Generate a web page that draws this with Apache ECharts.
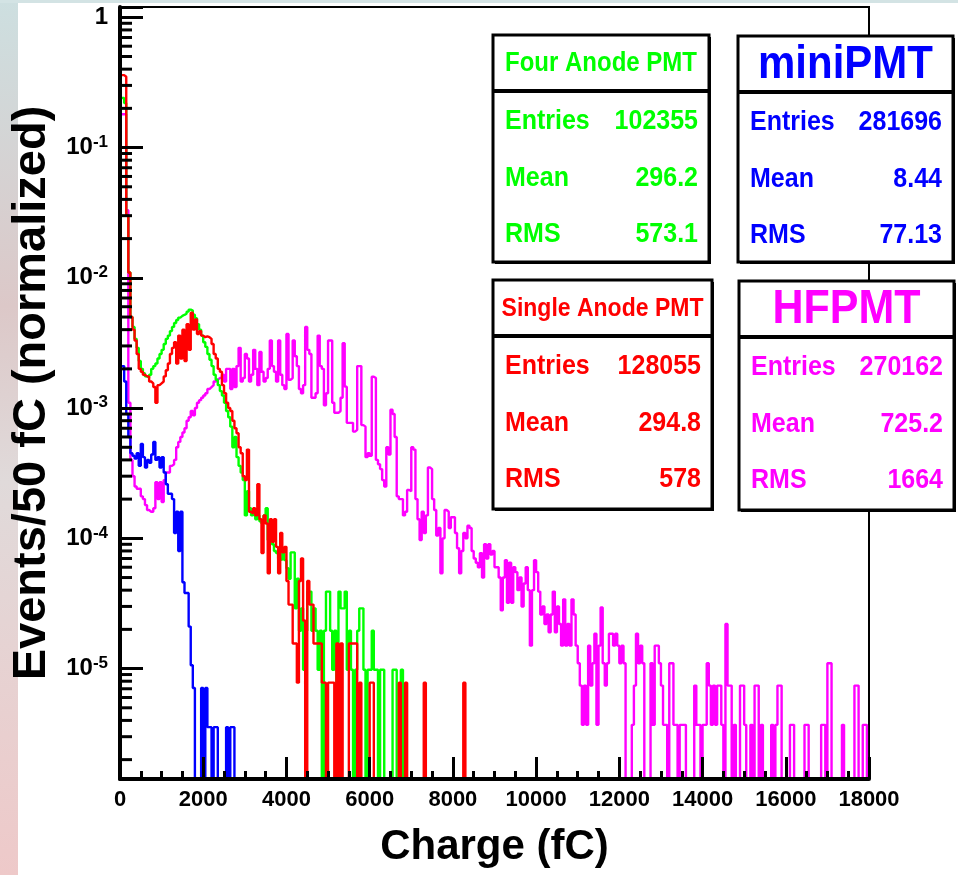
<!DOCTYPE html>
<html>
<head>
<meta charset="utf-8">
<title>PMT charge spectra</title>
<script src="https://cdn.jsdelivr.net/npm/echarts@6.0.0/dist/echarts.min.js"></script>
<style>
  html, body { margin: 0; padding: 0; background: #fff; }
  #chart { width: 958px; height: 875px; }
</style>
</head>
<body>
<div id="chart"></div>
<script>
// bin width of every histogram (fC)
const BIN = 50;
// empty bins go below the frame on the log axis
const EMPTY = 1e-9;

// normalized contents per 50 fC bin, starting at 0 fC
const fourAnode = [
  0.24, 0.24, 0.22, 0.03, 0.011, 5.0e-3, 4.2e-3, 3.4e-3, 2.9e-3, 2.3e-3,
  2.0e-3, 1.85e-3, 1.75e-3, 1.72e-3, 1.8e-3, 2.0e-3, 2.1e-3, 2.2e-3, 2.4e-3, 2.6e-3,
  2.8e-3, 3.1e-3, 3.4e-3, 3.6e-3, 3.9e-3, 4.2e-3, 4.5e-3, 4.75e-3, 4.95e-3, 5.1e-3,
  5.2e-3, 5.3e-3, 5.5e-3, 5.7e-3, 5.6e-3, 5.2e-3, 4.9e-3, 4.4e-3, 4.0e-3, 3.6e-3,
  3.2e-3, 2.95e-3, 2.6e-3, 2.35e-3, 2.1e-3, 1.8e-3, 1.65e-3, 1.5e-3, 1.35e-3, 1.25e-3,
  1.1e-3, 9.5e-4, 8.5e-4, 7.2e-4, 5.0e-4, 6.0e-4, 4.2e-4, 3.6e-4, 3.2e-4, 2.8e-4,
  1.5e-4, 2.3e-4, 1.7e-4, 1.5e-4, 1.6e-4, 1.4e-4, 1.5e-4, 1.35e-4, 1.3e-4, 1.5e-4,
  1.7e-4, 9.7e-5, 9.5e-5, 9.0e-5, 8.0e-5, 7.7e-5, 7.0e-5, 6.8e-5, 7.8e-5, 6.8e-5,
  5.9e-5, 4.9e-5, 7.8e-5, 7.8e-5, 2.9e-5, 4.9e-5, 1.95e-5, 2.9e-5, 9.8e-6, 1.95e-5,
  3.9e-5, 3.9e-5, 1.95e-5, 2.9e-5, 1.95e-5, 9.8e-6, 1.95e-5, 0, 1.95e-5, 3.9e-5,
  3.9e-5, 1.95e-5, 9.8e-6, 1.95e-5, 0, 3.9e-5, 2.9e-5, 2.9e-5, 3.9e-5, 9.8e-6,
  1.95e-5, 9.8e-6, 0, 9.8e-6, 1.95e-5, 2.9e-5, 2.9e-5, 9.8e-6, 0, 9.8e-6,
  9.8e-6, 1.95e-5, 9.8e-6, 9.8e-6, 0, 9.8e-6, 9.8e-6, 0, 0, 0,
  0, 9.8e-6, 9.8e-6, 0, 0, 9.8e-6
];

const singleAnode = [
  0.36, 0.36, 0.35, 0.03, 0.011, 5.0e-3, 4.0e-3, 3.3e-3, 2.6e-3, 2.0e-3,
  1.9e-3, 1.8e-3, 1.75e-3, 1.75e-3, 1.6e-3, 1.55e-3, 1.45e-3, 1.1e-3, 1.5e-3, 1.55e-3,
  1.6e-3, 1.75e-3, 1.95e-3, 2.2e-3, 2.6e-3, 2.9e-3, 3.2e-3, 2.2e-3, 3.6e-3, 2.4e-3,
  4.0e-3, 2.3e-3, 4.4e-3, 2.8e-3, 5.4e-3, 4.0e-3, 4.8e-3, 3.7e-3, 3.9e-3, 3.6e-3,
  3.5e-3, 3.55e-3, 3.5e-3, 3.4e-3, 3.1e-3, 2.6e-3, 2.4e-3, 2.0e-3, 1.9e-3, 1.5e-3,
  1.3e-3, 1.1e-3, 1.0e-3, 9.5e-4, 8.0e-4, 7.0e-4, 6.4e-4, 5.0e-4, 4.5e-4, 3.0e-4,
  2.8e-4, 4.8e-4, 1.6e-4, 1.55e-4, 1.7e-4, 1.5e-4, 2.6e-4, 1.4e-4, 7.7e-5, 1.5e-4,
  1.3e-4, 5.4e-5, 1.4e-4, 9.4e-5, 1.4e-4, 8.6e-5, 5.4e-5, 1.1e-4, 7.8e-5, 8.6e-5,
  4.7e-5, 3.1e-5, 3.1e-5, 1.56e-5, 1.56e-5, 7.8e-6, 4.7e-5, 7.0e-5, 2.34e-5, 0,
  4.7e-5, 3.1e-5, 3.1e-5, 1.56e-5, 1.56e-5, 1.56e-5, 1.56e-5, 7.8e-6, 7.8e-6, 0,
  7.8e-6, 7.8e-6, 7.8e-6, 0, 1.56e-5, 0, 1.56e-5, 0, 0, 0,
  1.56e-5, 1.56e-5, 1.56e-5, 1.56e-5, 0, 7.8e-6, 0, 0, 0, 0,
  7.8e-6, 7.8e-6, 0, 0, 0, 0, 0, 0, 0, 0,
  0, 0, 0, 0, 7.8e-6, 0, 0, 7.8e-6, 0, 0,
  0, 0, 0, 0, 0, 0, 7.8e-6, 0, 0, 0,
  0, 0, 0, 0, 0, 0, 0, 0, 0, 0,
  0, 0, 0, 0, 0, 7.8e-6
];

const miniPMT = [
  2.1e-3, 2.1e-3, 1.6e-3, 9.0e-4, 6.0e-4, 4.5e-4, 4.3e-4, 4.1e-4, 4.5e-4, 3.6e-4,
  5.3e-4, 4.2e-4, 3.5e-4, 4.0e-4, 3.8e-4, 4.4e-4, 5.5e-4, 4.0e-4, 4.2e-4, 3.5e-4,
  4.2e-4, 3.2e-4, 2.6e-4, 2.2e-4, 2.2e-4, 2.0e-4, 1.1e-4, 1.6e-4, 8.0e-5, 1.6e-4,
  4.6e-5, 3.8e-5, 3.8e-5, 2.1e-5, 1.06e-5, 7.1e-6, 0, 0, 0, 7.1e-6,
  0, 7.1e-6, 3.55e-6, 3.55e-6, 0, 3.55e-6, 3.55e-6, 0, 0, 0,
  0, 3.55e-6, 0, 3.55e-6, 3.55e-6
];

const hfPMT = [
  0.18, 0.18, 0.18, 0.033, 1.1e-3, 4.0e-4, 3.0e-4, 2.5e-4, 2.4e-4, 2.4e-4,
  2.1e-4, 2.0e-4, 1.8e-4, 1.65e-4, 1.6e-4, 1.6e-4, 1.7e-4, 2.7e-4, 2.0e-4, 2.7e-4,
  1.9e-4, 2.8e-4, 3.2e-4, 3.2e-4, 3.6e-4, 3.7e-4, 4.0e-4, 5.0e-4, 5.5e-4, 6.0e-4,
  6.5e-4, 7.0e-4, 8.0e-4, 8.5e-4, 9.5e-4, 8.8e-4, 1.0e-3, 1.1e-3, 1.15e-3, 1.2e-3,
  1.25e-3, 1.3e-3, 1.4e-3, 1.45e-3, 1.5e-3, 1.6e-3, 1.65e-3, 1.7e-3, 1.7e-3, 1.8e-3,
  1.6e-3, 2.0e-3, 2.0e-3, 1.4e-3, 2.0e-3, 1.45e-3, 2.1e-3, 2.9e-3, 1.6e-3, 1.7e-3,
  2.6e-3, 2.4e-3, 1.6e-3, 1.8e-3, 2.8e-3, 2.0e-3, 1.5e-3, 2.7e-3, 1.9e-3, 1.6e-3,
  1.7e-3, 2.0e-3, 3.3e-3, 2.1e-3, 1.9e-3, 1.6e-3, 3.3e-3, 1.8e-3, 1.5e-3, 1.4e-3,
  3.7e-3, 1.65e-3, 1.7e-3, 3.3e-3, 2.5e-3, 2.1e-3, 1.4e-3, 1.3e-3, 1.5e-3, 4.2e-3,
  2.8e-3, 2.6e-3, 1.2e-3, 1.2e-3, 1.3e-3, 3.6e-3, 2.1e-3, 2.0e-3, 1.05e-3, 1.3e-3,
  3.3e-3, 3.3e-3, 1.1e-3, 9.2e-4, 9.2e-4, 9.5e-4, 1.2e-3, 3.15e-3, 1.46e-3, 7.7e-4,
  7.7e-4, 7.7e-4, 6.6e-4, 6.8e-4, 2.1e-3, 2.1e-3, 7.4e-4, 7.2e-4, 4.2e-4, 4.5e-4,
  4.3e-4, 1.74e-3, 1.7e-3, 4.0e-4, 3.7e-4, 3.4e-4, 2.8e-4, 2.5e-4, 5.0e-4, 4.4e-4,
  9.7e-4, 9.0e-4, 6.0e-4, 2.1e-4, 2.0e-4, 2.0e-4, 1.5e-4, 1.6e-4, 2.35e-4, 2.3e-4,
  5.0e-4, 4.8e-4, 2.0e-4, 1.4e-4, 9.7e-5, 1.6e-4, 1.1e-4, 1.5e-4, 3.5e-4, 3.4e-4,
  2.0e-4, 1.65e-4, 1.05e-4, 1.2e-4, 5.4e-5, 1.0e-4, 1.65e-4, 1.6e-4, 1.2e-4, 1.45e-4,
  1.45e-4, 1.1e-4, 8.4e-5, 5.4e-5, 8.0e-5, 1.1e-4, 1.0e-4, 1.25e-4, 1.2e-4, 8.0e-5,
  7.0e-5, 6.5e-5, 6.0e-5, 7.7e-5, 5.0e-5, 9.0e-5, 7.0e-5, 9.0e-5, 7.5e-5, 8.0e-5,
  6.0e-5, 6.0e-5, 5.0e-5, 2.8e-5, 5.0e-5, 6.8e-5, 3.2e-5, 6.5e-5, 3.2e-5, 6.0e-5,
  5.5e-5, 4.0e-5, 5.0e-5, 3.0e-5, 4.5e-5, 6.0e-5, 4.0e-5, 1.5e-5, 4.0e-5, 6.8e-5,
  5.5e-5, 3.9e-5, 2.6e-5, 3.0e-5, 2.2e-5, 2.6e-5, 1.9e-5, 2.6e-5, 3.9e-5, 1.9e-5,
  3.0e-5, 2.2e-5, 1.5e-5, 3.4e-5, 1.5e-5, 2.2e-5, 1.5e-5, 3.4e-5, 2.6e-5, 1.5e-5,
  1.1e-5, 7.4e-6, 3.7e-6, 7.4e-6, 3.7e-6, 1.5e-5, 7.4e-6, 1.1e-5, 1.85e-5, 3.7e-6,
  1.5e-5, 2.95e-5, 1.1e-5, 7.4e-6, 1.1e-5, 1.85e-5, 1.85e-5, 1.5e-5, 1.85e-5, 1.5e-5,
  1.1e-5, 1.5e-5, 1.1e-5, 0, 0, 0, 3.7e-6, 7.4e-6, 1.85e-5, 1.1e-5,
  1.5e-5, 1.1e-5, 0, 0, 0, 1.1e-5, 3.7e-6, 1.5e-5, 1.5e-5, 1.1e-5,
  7.4e-6, 3.7e-6, 3.7e-6, 0, 1.1e-5, 1.1e-5, 3.7e-6, 3.7e-6, 0, 3.7e-6,
  3.7e-6, 3.7e-6, 0, 0, 0, 0, 7.4e-6, 3.7e-6, 3.7e-6, 0,
  3.7e-6, 3.7e-6, 1.1e-5, 7.4e-6, 3.7e-6, 7.4e-6, 3.7e-6, 7.4e-6, 7.4e-6, 3.7e-6,
  0, 2.2e-5, 7.4e-6, 7.4e-6, 0, 3.7e-6, 0, 0, 7.4e-6, 7.4e-6,
  3.7e-6, 0, 0, 3.7e-6, 0, 7.4e-6, 7.4e-6, 0, 3.7e-6, 0,
  0, 0, 0, 3.7e-6, 0, 3.7e-6, 7.4e-6, 7.4e-6, 0, 0,
  0, 0, 3.7e-6, 3.7e-6, 0, 0, 0, 0, 0, 3.7e-6,
  3.7e-6, 0, 0, 0, 0, 0, 0, 3.7e-6, 3.7e-6, 0,
  1.1e-5, 1.1e-5, 0, 0, 0, 0, 0, 3.7e-6, 0, 0,
  0, 0, 0, 7.4e-6, 7.4e-6, 0, 0, 3.7e-6, 3.7e-6, 0
];

// minor ticks of the log axis
const yMinorTicks = [
  2e-6, 3e-6, 4e-6, 5e-6, 6e-6, 7e-6, 8e-6, 9e-6,
  2e-5, 3e-5, 4e-5, 5e-5, 6e-5, 7e-5, 8e-5, 9e-5,
  2e-4, 3e-4, 4e-4, 5e-4, 6e-4, 7e-4, 8e-4, 9e-4,
  2e-3, 3e-3, 4e-3, 5e-3, 6e-3, 7e-3, 8e-3, 9e-3,
  0.02, 0.03, 0.04, 0.05, 0.06, 0.07, 0.08, 0.09,
  0.2, 0.3, 0.4, 0.5, 0.6, 0.7, 0.8, 0.9
];

// statistics boxes text
const statLabels = ['Entries', 'Mean', 'RMS'];
const fourAnodeStats = ['102355', '296.2', '573.1'];
const miniStats = ['281696', '8.44', '77.13'];
const singleAnodeStats = ['128055', '294.8', '578'];
const hfStats = ['270162', '725.2', '1664'];

const FONT = "'Liberation Sans', Arial, Helvetica, sans-serif";

function histPoints(vals) {
  const pts = vals.map((v, i) => [i * BIN, v > 0 ? v : EMPTY]);
  pts.push([vals.length * BIN, EMPTY]);
  return pts;
}

function histSeries(name, vals, color) {
  return {
    name: name,
    type: 'line',
    step: 'end',
    symbol: 'none',
    clip: true,
    data: histPoints(vals),
    lineStyle: { color: color, width: 2.4 },
    itemStyle: { color: color },
    z: 2
  };
}

function boxText(x, y, text, color, size, align) {
  return {
    type: 'text', x: x, y: y, scaleY: 1.12,
    style: {
      text: text, fill: color, fontSize: size, fontWeight: 'bold', fontFamily: FONT,
      align: align, verticalAlign: 'middle', textAlign: align, textVerticalAlign: 'middle'
    }
  };
}

function statBox(x, y, w, h, title, titleSize, color, values) {
  const els = [
    { type: 'rect', shape: { x: x + 2, y: y + 2, width: w, height: h }, style: { fill: '#000' } },
    { type: 'rect', shape: { x: x, y: y, width: w, height: h }, style: { fill: '#fff', stroke: '#000', lineWidth: 3 } },
    { type: 'line', shape: { x1: x, y1: y + 56, x2: x + w, y2: y + 56 }, style: { stroke: '#000', lineWidth: 4 } },
    boxText(x + w / 2, y + 29, title, color, titleSize, 'center')
  ];
  const rowOffsets = [86, 143, 199];
  statLabels.forEach((lab, i) => {
    els.push(boxText(x + 12, y + rowOffsets[i], lab, color, 25, 'left'));
    els.push(boxText(x + w - 11, y + rowOffsets[i], values[i], color, 25, 'right'));
  });
  return els;
}

const chart = echarts.init(document.getElementById('chart'));

const graphics = [
  {
    type: 'rect', shape: { x: 0, y: 0, width: 18, height: 875 }, silent: true,
    style: {
      fill: new echarts.graphic.LinearGradient(0, 0, 0, 1, [
        { offset: 0, color: '#cddfe0' },
        { offset: 0.35, color: '#dcc8c8' },
        { offset: 0.55, color: '#e0dada' },
        { offset: 1, color: '#eec9c9' }
      ])
    }
  },
  { type: 'rect', shape: { x: 0, y: 0, width: 958, height: 3 }, silent: true, style: { fill: '#d3e3e4' } }
]
  .concat(statBox(493, 35, 216, 227, 'Four Anode PMT', 24, '#00ff00', fourAnodeStats))
  .concat(statBox(738, 36, 215, 226, 'miniPMT', 42, '#0000ff', miniStats))
  .concat(statBox(493, 280, 219, 229, 'Single Anode PMT', 23, '#ff0000', singleAnodeStats))
  .concat(statBox(739, 281, 215, 229, 'HFPMT', 43, '#ff00ff', hfStats));

const option = {
  animation: false,
  backgroundColor: '#fff',
  grid: {
    left: 120, right: 89, top: 7, bottom: 96,
    show: true, borderColor: '#000', borderWidth: 2, backgroundColor: '#fff'
  },
  xAxis: {
    type: 'value',
    min: 0, max: 18000, interval: 2000,
    z: 5,
    name: 'Charge (fC)',
    nameLocation: 'middle',
    nameGap: 47,
    nameTextStyle: { color: '#000', fontSize: 42, fontWeight: 'bold', fontFamily: FONT },
    axisLine: { lineStyle: { color: '#000', width: 4 } },
    axisTick: { inside: true, length: 22, lineStyle: { color: '#000', width: 3 } },
    minorTick: { show: true, splitNumber: 4, length: 8, lineStyle: { color: '#000', width: 3 } },
    splitLine: { show: false },
    axisLabel: {
      color: '#000', fontSize: 22, fontWeight: 'bold', fontFamily: FONT, margin: 10,
      formatter: function (v) { return String(v); }
    }
  },
  yAxis: {
    type: 'log',
    logBase: 10,
    min: 1.42e-6, max: 1.2,
    z: 5,
    name: 'Events/50 fC (normalized)',
    nameLocation: 'middle',
    nameRotate: 90,
    nameGap: 53,
    nameTextStyle: { color: '#000', fontSize: 47, fontWeight: 'bold', fontFamily: FONT },
    axisLine: { lineStyle: { color: '#000', width: 4 } },
    axisTick: { inside: true, length: 23, lineStyle: { color: '#000', width: 3 } },
    splitLine: { show: false },
    axisLabel: {
      margin: 12,
      formatter: function (v) {
        const e = Math.round(Math.log10(v));
        if (Math.abs(Math.log10(v) - e) > 1e-6) return '';
        if (e === 0) return '{b|1}';
        return '{b|10}{s|' + e + '}';
      },
      rich: {
        b: { color: '#000', fontSize: 24, fontWeight: 'bold', fontFamily: FONT, lineHeight: 28 },
        s: { color: '#000', fontSize: 17, fontWeight: 'bold', fontFamily: FONT, lineHeight: 17, verticalAlign: 'top' }
      }
    }
  },
  graphic: { elements: graphics },
  series: [
    histSeries('HFPMT', hfPMT, '#ff00ff'),
    histSeries('miniPMT', miniPMT, '#0000ff'),
    histSeries('Four Anode PMT', fourAnode, '#00ff00'),
    histSeries('Single Anode PMT', singleAnode, '#ff0000'),
    {
      type: 'custom',
      coordinateSystem: 'cartesian2d',
      silent: true,
      z: 6,
      data: yMinorTicks.map(v => [0, v]),
      encode: { x: 0, y: 1 },
      renderItem: function (params, api) {
        const p = api.coord([0, api.value(1)]);
        return {
          type: 'line',
          shape: { x1: p[0], y1: p[1], x2: p[0] + 12, y2: p[1] },
          style: { stroke: '#000', lineWidth: 3 }
        };
      }
    }
  ]
};

chart.setOption(option);
window.addEventListener('resize', () => chart.resize());
</script>
</body>
</html>
